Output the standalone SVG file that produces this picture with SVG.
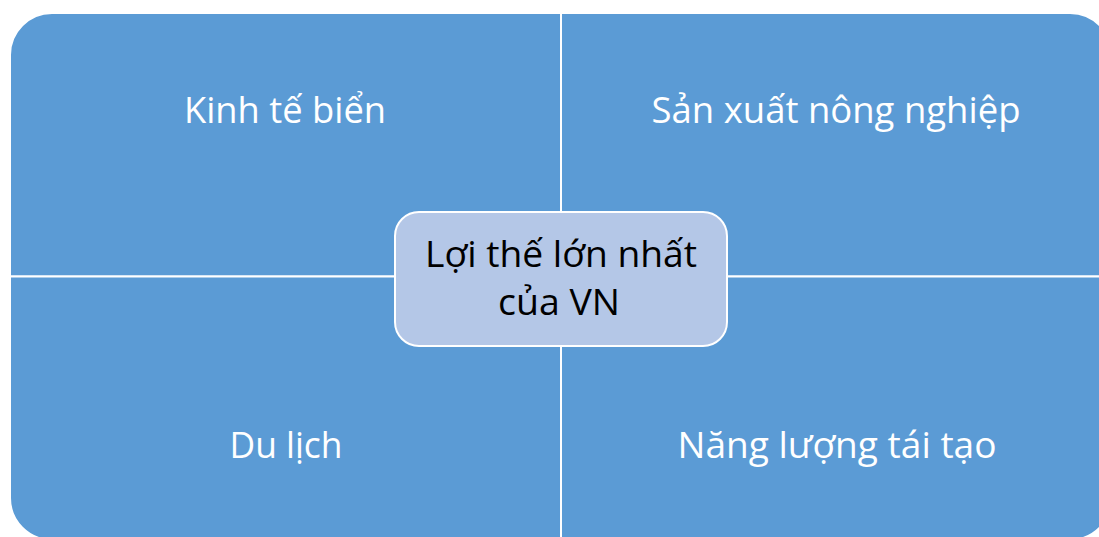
<svg xmlns="http://www.w3.org/2000/svg" width="1099" height="537" viewBox="0 0 1099 537">
<style>
.q{fill:#5B9BD5;stroke:#FFFFFF;stroke-width:2}
.c{fill:#B4C7E7;stroke:#FFFFFF;stroke-width:2}
.t{font-family:"Open Sans","Noto Sans","Liberation Sans",sans-serif;font-size:37px;text-anchor:middle}
.w{fill:#FFFFFF}
.b{fill:#000000}
</style>
<rect x="0" y="0" width="1099" height="537" fill="#FFFFFF"/>
<g id="node-tl">
<path class="q" d="M10,276.5 V55 A42,42 0 0 1 52,13 H561 V276.5 Z"/>
<text class="t w" x="285" y="123" textLength="202" lengthAdjust="spacingAndGlyphs">Kinh tế biển</text>
</g>
<g id="node-tr">
<path class="q" d="M561,13 H1070 A42,42 0 0 1 1112,55 V276.5 H561 Z"/>
<text class="t w" x="836" y="123" textLength="369" lengthAdjust="spacingAndGlyphs">Sản xuất nông nghiệp</text>
</g>
<g id="node-bl">
<path class="q" d="M10,276.5 H561 V540 H52 A42,42 0 0 1 10,498 Z"/>
<text class="t w" x="286" y="458" textLength="113" lengthAdjust="spacingAndGlyphs">Du lịch</text>
</g>
<g id="node-br">
<path class="q" d="M561,276.5 H1112 V498 A42,42 0 0 1 1070,540 H561 Z"/>
<text class="t w" x="837" y="458" textLength="319" lengthAdjust="spacingAndGlyphs">Năng lượng tái tạo</text>
</g>
<g id="node-center">
<rect class="c" x="395" y="212" width="332" height="134" rx="24" ry="24"/>
<text class="t b" x="561" y="267" textLength="272" lengthAdjust="spacingAndGlyphs">Lợi thế lớn nhất</text>
<text class="t b" x="559" y="315" textLength="122" lengthAdjust="spacingAndGlyphs">của VN</text>
</g>
<g id="connectors"></g>
</svg>
